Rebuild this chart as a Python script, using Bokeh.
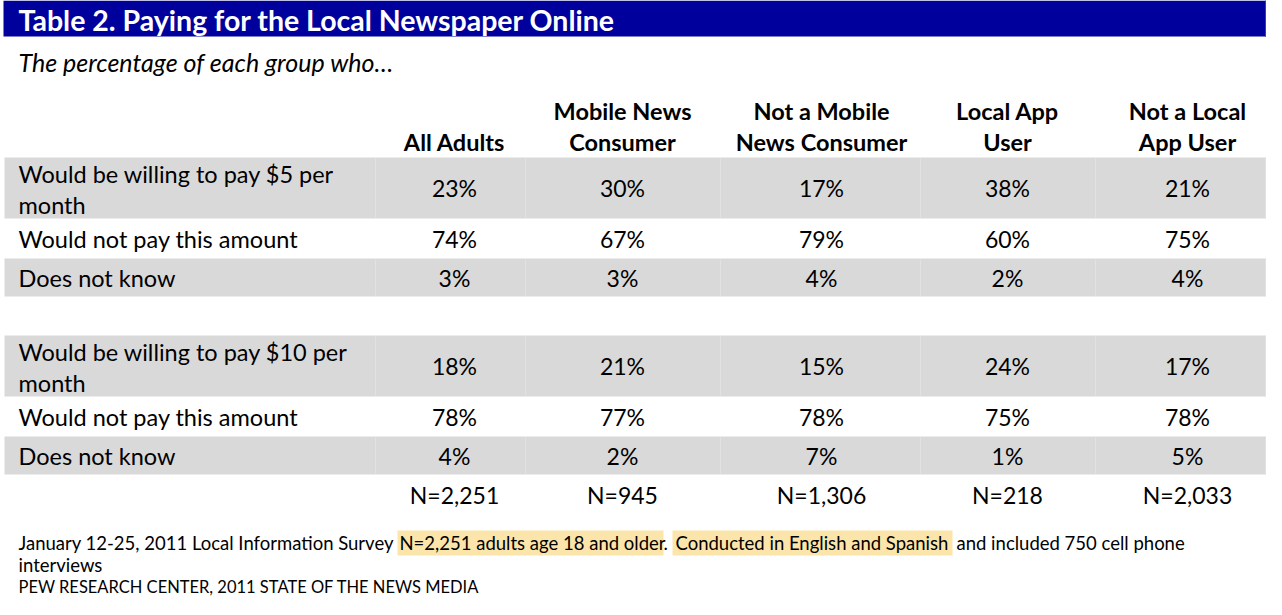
from bokeh.plotting import figure
from bokeh.models import Range1d, ColumnDataSource
from bokeh.core.properties import value
from bokeh.embed import file_html
from bokeh.resources import INLINE

# ---------------- data ----------------
title = "Table 2. Paying for the Local Newspaper Online"
subtitle = "The percentage of each group who\u2026"
header_line1 = ["", "Mobile News", "Not a Mobile", "Local App", "Not a Local"]
header_line2 = ["All Adults", "Consumer", "News Consumer", "User", "App User"]

labels_5 = [["Would be willing to pay $5 per", "month"], ["Would not pay this amount"], ["Does not know"]]
labels_10 = [["Would be willing to pay $10 per", "month"], ["Would not pay this amount"], ["Does not know"]]

pay5_willing = [23, 30, 17, 38, 21]
pay5_not = [74, 67, 79, 60, 75]
pay5_dk = [3, 3, 4, 2, 4]
pay10_willing = [18, 21, 15, 24, 17]
pay10_not = [78, 77, 78, 75, 78]
pay10_dk = [4, 2, 7, 1, 5]
sample_sizes = [2251, 945, 1306, 218, 2033]

note_segments = ["January 12-25, 2011 Local Information Survey", "N=2,251 adults age 18 and older", ".",
                 "Conducted in English and Spanish", "and included 750 cell phone"]
note_line2 = "interviews"
source_line = "PEW RESEARCH CENTER, 2011 STATE OF THE NEWS MEDIA"

# ---------------- layout ----------------
W, H = 1266, 599
FONT = value("Lato")
p = figure(width=W, height=H, x_range=Range1d(0, W), y_range=Range1d(H, 0),
           output_backend="svg", toolbar_location=None, min_border=0,
           x_axis_type=None, y_axis_type=None)
p.grid.visible = False
p.outline_line_color = None
p.background_fill_color = "white"
p.border_fill_color = "white"

BLUE = "#00009C"
GRAY = "#D9D9D9"
HL = "#FCE5AA"

# title bar
p.quad(left=3, right=1279, top=0, bottom=36, fill_color=BLUE, line_color=None)
p.segment(x0=[1265], x1=[1265], y0=[0], y1=[36], line_color="#3A3AB8", line_width=1)
p.text(x=[18], y=[19], text=[title], text_font=FONT, text_font_style="bold",
       text_font_size="28.5px", text_color="white", text_baseline="middle")
p.text(x=[18], y=[61], text=[subtitle], text_font=FONT, text_font_style="italic",
       text_font_size="25px", text_color="black", text_baseline="middle")

col_x = [454, 622, 821, 1007, 1187]
sep_x = [375, 525, 720, 920, 1095, 1265]

# headers
hdr_kw = dict(text_font=FONT, text_font_style="bold", text_font_size="23.5px",
              text_align="center", text_baseline="middle", text_color="black")
p.text(x=col_x, y=[110] * 5, text=header_line1, **hdr_kw)
p.text(x=col_x, y=[141] * 5, text=header_line2, **hdr_kw)

row_h = [61, 40, 38]
shaded = [True, False, True]
blocks = [
    (157, labels_5, [pay5_willing, pay5_not, pay5_dk]),
    (335, labels_10, [pay10_willing, pay10_not, pay10_dk]),
]

for top, labels, series in blocks:
    y0 = top
    for r in range(3):
        h = row_h[r]
        yc = y0 + h / 2
        if shaded[r]:
            p.quad(left=4, right=1280, top=y0, bottom=y0 + h, fill_color=GRAY, line_color=None)
            p.segment(x0=sep_x, x1=sep_x, y0=[y0 + 1] * len(sep_x), y1=[y0 + h - 1] * len(sep_x),
                      line_color="#E2E2E2", line_width=1)
        lines = labels[r]
        if len(lines) == 2:
            ly = [y0 + 16, y0 + 47]
        else:
            ly = [yc]
        p.text(x=[18] * len(lines), y=ly, text=lines, text_font=FONT, text_font_size="23.5px",
               text_baseline="middle", text_color="black")
        src = ColumnDataSource(dict(x=col_x, y=[yc] * 5, t=[f"{v}%" for v in series[r]]))
        p.text(x="x", y="y", text="t", source=src, text_font=FONT, text_font_size="23px",
               text_align="center", text_baseline="middle", text_color="black")
        y0 += h

p.text(x=col_x, y=[494] * 5, text=[f"N={n:,}" for n in sample_sizes], text_font=FONT,
       text_font_size="23px", text_align="center", text_baseline="middle", text_color="black")

# footnote
seg_x = [18, 399, 663, 675, 956]
seg_hl = [(397, 663), (672, 952)]
for a, b in seg_hl:
    p.quad(left=a, right=b, top=530, bottom=555, fill_color=HL, line_color=None)
note_kw = dict(text_font=FONT, text_font_size="18.5px", text_baseline="middle", text_color="black")
p.text(x=seg_x, y=[542] * len(seg_x), text=note_segments, **note_kw)
p.text(x=[18], y=[564], text=[note_line2], **note_kw)
p.text(x=[18], y=[586], text=[source_line], text_font=FONT, text_font_size="16.5px",
       text_baseline="middle", text_color="black")

open("out.html", "w").write(file_html(p, INLINE))
